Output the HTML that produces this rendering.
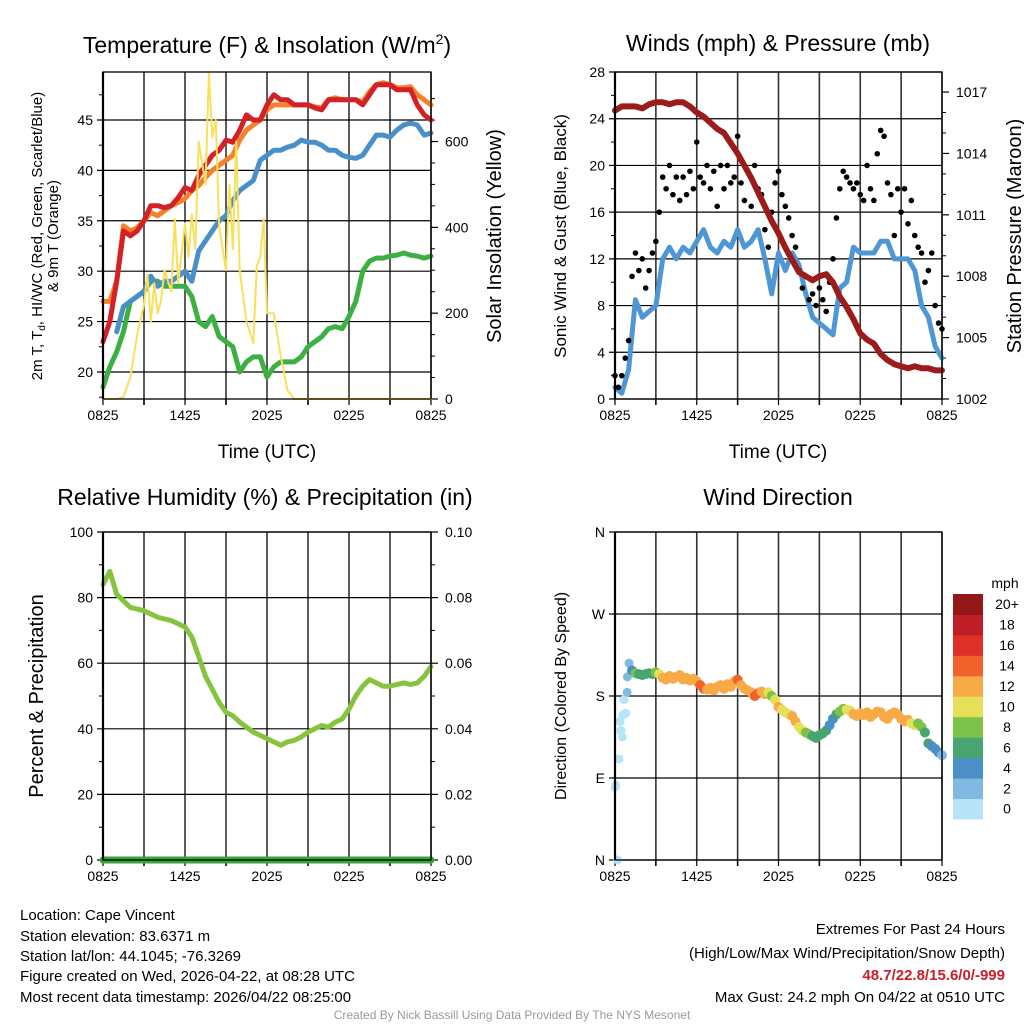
<!DOCTYPE html>
<html><head><meta charset="utf-8">
<style>
html,body{margin:0;padding:0;background:#fff;}
svg{display:block;font-family:"Liberation Sans",Arial,sans-serif;}
</style></head>
<body>
<svg id="s" width="1024" height="1024" viewBox="0 0 1024 1024" xmlns="http://www.w3.org/2000/svg">
<rect width="1024" height="1024" fill="#fff"/>
<text x="267" y="53" font-size="23" text-anchor="middle">Temperature (F) &amp; Insolation (W/m<tspan font-size="14" dy="-9">2</tspan><tspan dy="9">)</tspan></text>
<text x="778" y="51" font-size="23" text-anchor="middle">Winds (mph) &amp; Pressure (mb)</text>
<text x="265" y="505" font-size="23" text-anchor="middle">Relative Humidity (%) &amp; Precipitation (in)</text>
<text x="778" y="505" font-size="23" text-anchor="middle">Wind Direction</text>

<text x="267" y="458" font-size="19" text-anchor="middle">Time (UTC)</text>
<text x="778" y="458" font-size="19" text-anchor="middle">Time (UTC)</text>

<text transform="translate(42,236) rotate(-90)" font-size="15" text-anchor="middle">2m T, T<tspan font-size="10" dy="3">d</tspan><tspan dy="-3">, HI/WC (Red, Green, Scarlet/Blue)</tspan></text>
<text transform="translate(58,236) rotate(-90)" font-size="15" text-anchor="middle">&amp; 9m T (Orange)</text>
<text transform="translate(501,236) rotate(-90)" font-size="20" text-anchor="middle">Solar Insolation (Yellow)</text>
<text transform="translate(566,236) rotate(-90)" font-size="17" text-anchor="middle">Sonic Wind &amp; Gust (Blue, Black)</text>
<text transform="translate(1021,236) rotate(-90)" font-size="20" text-anchor="middle">Station Pressure (Maroon)</text>
<text transform="translate(43,696) rotate(-90)" font-size="20" text-anchor="middle">Percent &amp; Precipitation</text>
<text transform="translate(566,696) rotate(-90)" font-size="16" text-anchor="middle">Direction (Colored By Speed)</text>

<g font-size="15">
<text x="20" y="920">Location: Cape Vincent</text>
<text x="20" y="941">Station elevation: 83.6371 m</text>
<text x="20" y="961">Station lat/lon: 44.1045; -76.3269</text>
<text x="20" y="981">Figure created on Wed, 2026-04-22, at 08:28 UTC</text>
<text x="20" y="1002">Most recent data timestamp: 2026/04/22 08:25:00</text>
</g>
<g font-size="15" text-anchor="end">
<text x="1005" y="934">Extremes For Past 24 Hours</text>
<text x="1005" y="958">(High/Low/Max Wind/Precipitation/Snow Depth)</text>
<text x="1005" y="980" fill="#c8202a" font-weight="bold">48.7/22.8/15.6/0/-999</text>
<text x="1005" y="1002">Max Gust: 24.2 mph On 04/22 at 0510 UTC</text>
</g>
<text x="512" y="1019" font-size="12" fill="#999" text-anchor="middle">Created By Nick Bassill Using Data Provided By The NYS Mesonet</text>
</svg>
<script>
// ---------- data ----------
const xTickLabels = ["0825","1425","2025","0225","0825"];
const halfHourTimes = [0,0.5,1,1.5,2,2.5,3,3.5,4,4.5,5,5.5,6,6.5,7,7.5,8,8.5,9,9.5,10,10.5,11,11.5,12,12.5,13,13.5,14,14.5,15,15.5,16,16.5,17,17.5,18,18.5,19,19.5,20,20.5,21,21.5,22,22.5,23,23.5,24];
const tempRed = [23,25,29,34,33.5,34,35,36.5,36.5,36.3,36.5,37.3,38.3,38,39.5,40.5,41.5,42,43,42.8,44,45.5,45,45,46.5,47.5,47,47,46.5,46.5,46.5,46.2,46,47,47,47,47,47,46.5,47.5,48.5,48.5,48.5,48,48,48,46.5,45.5,45];
const temp9mOrange = [27,27,29,34.5,34,34.3,35,35.8,35.5,36,36.5,36.8,37.2,38,38.5,39.3,40,40.5,41,41.5,43,44,44.5,45,46,46.5,46.5,46.5,46.5,46.5,46.5,46.3,46.2,47,47.2,47,47,47,46.8,47.8,48.5,48.7,48.5,48.2,48.2,48.3,47.5,47,46.5];
const windChillBlue = [24,26.5,27,27.5,28,29.5,28.5,29,29,29.5,30,29,32,33,34,35,35.5,37,38,38.5,39,41,41.5,42,42,42.3,42.5,43,42.8,42.8,42.5,42,42,41.5,41.3,41.2,41.5,42.5,43.5,43.5,43.3,44,44.5,44.7,44.5,43.5,43.7];
const dewpointGreen = [18.5,20.5,22,24,27,27.5,28,29,29,28.5,28.5,28.5,28.5,27.5,25,24.5,25.5,23.5,23,22.5,20,21,21.5,21.5,19.5,20.5,21,21,21,21.5,22.5,23,23.5,24.3,24.5,24.3,25.5,27,30,31,31.3,31.3,31.5,31.6,31.8,31.6,31.5,31.3,31.5];
const solarTimes = [0,1,1.5,2,2.5,3,3.25,3.5,3.75,4,4.25,4.5,5,5.25,5.5,6,6.25,6.5,6.75,7,7.25,7.5,7.75,8,8.25,8.5,8.75,9,9.25,9.5,9.75,10,10.5,11,11.25,11.5,11.75,12,12.5,13,13.5,14,24];
const solarVals = [0,0,5,50,150,220,290,180,270,200,230,300,250,420,270,410,330,430,350,600,550,500,760,610,650,400,350,300,500,350,600,300,180,130,310,330,420,200,200,100,20,0,0];
const windSpeed = [1,0.5,2.5,8.5,7,7.5,8,12,13,12,13,12.5,13.5,14.5,13,12.5,13.5,13,14.5,13,13.5,14.5,12,9,12.5,11,12.5,11.5,9,7,6.5,6,5.5,9.5,10,13,12.5,12.5,12.5,13.5,13.5,12,12,12,11,8,7,4.5,3.5];
const windGust = [2,1,2,3.5,5,10.5,12.5,11,12,9.5,11,12.5,13.5,
 16,19,18,20,17.5,19,17,19,17.5,19.5,18,22,
 19,18.5,20,18,19.5,16.5,20,18,20,18.5,19,22.5,
 18.5,17,19.5,16.5,20,18,17.5,14.5,13,16,18.5,19.5,
 17.5,16.5,15.5,14,13,11,9.5,10.5,8.5,9,8,9.5,
 8.5,7.5,10,12,15.5,18,19.5,19,18.5,18,18.5,17.5,
 17,20,18,17,21,23,22.5,18.5,17.5,14,18,16,
 18,15,17,14,13,12.5,10,11,12.5,8,6.5,6];
const pressure = [1016.1,1016.3,1016.3,1016.3,1016.2,1016.4,1016.5,1016.5,1016.4,1016.5,1016.5,1016.3,1016.0,1015.8,1015.5,1015.2,1015.0,1014.5,1014.0,1013.4,1012.8,1012.1,1011.4,1010.7,1010.1,1009.4,1008.8,1008.2,1008.0,1007.8,1008.0,1008.1,1007.7,1007.0,1006.5,1005.9,1005.2,1004.9,1004.7,1004.2,1003.9,1003.7,1003.6,1003.5,1003.6,1003.5,1003.5,1003.4,1003.4];
const humidity = [84,88,81,79,77,76.5,76,75,74,73.5,73,72,71,68,62,56,52,48,45,44,42,40.5,39,38,37,36,35,36,36.5,37.5,39,40,41,40.5,42,43,46,50,53,55,54,53,53,53.5,54,53.5,54,56,59];
const precipTimes = [0,24];
const precipVals = [0,0];
const dirEarlyTimes = [0,0.05,0.2,0.3,0.37,0.44,0.54,0.57,0.66,0.79,0.89,0.91,1.03];
const dirEarlyVals = [80,82,0,111,152,142,135,159,176,161,184,201,216];
const dirTimes = [1.25,1.5,1.75,2,2.25,2.5,2.75,3,3.25,3.5,3.75,4,4.25,4.5,4.75,5,5.25,5.5,5.75,6,6.25,6.5,6.75,7,7.25,7.5,7.75,8,8.25,8.5,8.75,9,9.25,9.5,9.75,10,10.25,10.5,10.75,11,11.25,11.5,11.75,12,12.25,12.5,12.75,13,13.25,13.5,13.75,14,14.25,14.5,14.75,15,15.25,15.5,15.75,16,16.25,16.5,16.75,17,17.25,17.5,17.75,18,18.25,18.5,18.75,19,19.25,19.5,19.75,20,20.25,20.5,20.75,21,21.25,21.5,21.75,22,22.25,22.5,22.75,23,23.25,23.5,23.75,24];
const dirVals = [208,205,204,203,204,205,204,206,
 204,200,198,202,199,201,203,198,200,197,199,196,
 192,188,187,189,186,190,192,188,193,190,196,198,
 192,188,186,184,180,183,185,182,184,180,176,168,
 165,162,160,158,152,146,142,140,138,136,134,137,
 139,142,148,155,160,163,166,165,164,160,158,161,
 159,162,157,160,163,162,157,155,160,162,160,155,
 152,154,150,148,150,146,140,128,125,122,118,115];
const speedBinLabels = ["0","2","4","6","8","10","12","14","16","18","20+"];
const speedBinColors = ["#b8e4f8","#80b9e2","#4a8fc6","#48a570","#7dc24a","#e5e057","#f7aa45","#f0612b","#de3029","#be1e25","#911719"];

// ---------- helpers ----------
const NS = "http://www.w3.org/2000/svg";
const svg = document.getElementById('s');
function mk(tag, attrs, name, parent){
  const el = document.createElementNS(NS, tag);
  for (const k in attrs) el.setAttribute(k, attrs[k]);
  
  
  (parent||svg).appendChild(el);
  return el;
}
function txt(x,y,s,size,anchor,name,parent){
  const el = mk('text',{x:x,y:y,'font-size':size,'text-anchor':anchor||'middle'},name,parent);
  el.textContent = s;
  return el;
}
function lin(a,b,c,d){ return v => c + (v-a)/(b-a)*(d-c); }
function interp(ts, vs, t){
  if (t<=ts[0]) return vs[0];
  for (let i=1;i<ts.length;i++) if (t<=ts[i]) { const f=(t-ts[i-1])/(ts[i]-ts[i-1]); return vs[i-1]+f*(vs[i]-vs[i-1]); }
  return vs[vs.length-1];
}
function polyline(ts, vs, xf, yf, color, w, name, g){
  const pts = ts.map((t,i)=>xf(t).toFixed(1)+','+yf(vs[i]).toFixed(1)).join(' ');
  return mk('polyline',{points:pts,fill:'none',stroke:color,'stroke-width':w,'stroke-linejoin':'round','stroke-linecap':'round'},name,g);
}

function panel(p){
  const g = mk('g',{},p.name);
  const xf = lin(0,24,p.x0,p.x1);
  for (let h=0; h<=24; h+=3){
    const x = xf(h);
    mk('line',{x1:x,y1:p.y0,x2:x,y2:p.y1+(h%6===0?0:6),stroke:'#333','stroke-width':1.6},'x-grid-line',g);
    mk('line',{x1:x,y1:p.y1,x2:x,y2:p.y1+6,stroke:'#000','stroke-width':1.2},'x-tick',g);
  }
  xTickLabels.forEach((s,i)=>{ txt(xf(i*6), p.y1+21, s, 14, 'middle', 'x-tick-label', g); });
  const ylf = lin(p.lmin,p.lmax,p.y1,p.y0);
  p.lticks.forEach((v,i)=>{
    const y = ylf(v);
    mk('line',{x1:p.x0-6,y1:y,x2:p.x1,y2:y,stroke:'#000','stroke-width':1.2},'y-grid-line',g);
    txt(p.x0-10, y+5, p.llabels[i], 14, 'end', 'left-tick-label', g);
  });
  (p.lminor||[]).forEach(v=>{ const y=ylf(v); mk('line',{x1:p.x0-4,y1:y,x2:p.x0,y2:y,stroke:'#000','stroke-width':1},'left-minor-tick',g); });
  if (p.rticks){
    const yrf = lin(p.rmin,p.rmax,p.y1,p.y0);
    p.rticks.forEach((v,i)=>{ const y=yrf(v);
      mk('line',{x1:p.x1,y1:y,x2:p.x1+7,y2:y,stroke:'#000','stroke-width':1.2},'right-tick',g);
      txt(p.x1+14, y+5, p.rlabels[i], 14, 'start', 'right-tick-label', g); });
    (p.rminor||[]).forEach(v=>{ const y=yrf(v); mk('line',{x1:p.x1,y1:y,x2:p.x1+4,y2:y,stroke:'#000','stroke-width':1},'right-minor-tick',g); });
  }
  return {g, xf, ylf, yrf: p.rticks ? lin(p.rmin,p.rmax,p.y1,p.y0) : null};
}
function frame(p,g){
  mk('rect',{x:p.x0,y:p.y0,width:p.x1-p.x0,height:p.y1-p.y0,fill:'none',stroke:'#000','stroke-width':1.3},'plot-frame',g);
  mk('line',{x1:p.x0,y1:p.y0,x2:p.x0,y2:p.y1,stroke:'#000','stroke-width':2.2},'left-axis-line',g);
}

// ---------- panel 1: temperature ----------
const P1 = {name:'temperature-panel',x0:103,x1:431,y0:72,y1:399,lmin:17.32,lmax:49.76,
  lticks:[20,25,30,35,40,45], llabels:["20","25","30","35","40","45"],
  lminor:[17.5,22.5,27.5,32.5,37.5,42.5,47.5],
  rmin:0,rmax:762, rticks:[0,200,400,600], rlabels:["0","200","400","600"],
  rminor:[50,100,150,250,300,350,450,500,550,650,700]};
const a1 = panel(P1);
const wct = halfHourTimes.slice(2);
polyline(halfHourTimes, dewpointGreen, a1.xf, a1.ylf, '#3db043', 5, 'dewpoint-line', a1.g);
polyline(wct, windChillBlue, a1.xf, a1.ylf, '#4a90c8', 5, 'wind-chill-line', a1.g);
polyline(halfHourTimes, temp9mOrange, a1.xf, a1.ylf, '#f5822a', 5, 'temp-9m-line', a1.g);
polyline(halfHourTimes, tempRed, a1.xf, a1.ylf, '#d42027', 5, 'temp-2m-line', a1.g);
polyline(solarTimes, solarVals, a1.xf, a1.yrf, '#f9e05a', 2, 'solar-line', a1.g);
frame(P1, a1.g);

// ---------- panel 2: winds ----------
const P2 = {name:'winds-panel',x0:615,x1:942,y0:72,y1:399,lmin:0,lmax:28,
  lticks:[0,4,8,12,16,20,24,28], llabels:["0","4","8","12","16","20","24","28"],
  lminor:[2,6,10,14,18,22,26],
  rmin:1002,rmax:1017.98, rticks:[1002,1005,1008,1011,1014,1017], rlabels:["1002","1005","1008","1011","1014","1017"],
  rminor:[1003,1004,1006,1007,1009,1010,1012,1013,1015,1016]};
const a2 = panel(P2);
polyline(halfHourTimes, windSpeed, a2.xf, a2.ylf, '#4f97d4', 5, 'wind-speed-line', a2.g);
windGust.forEach((v,i)=>{
  const c = mk('circle',{cx:a2.xf(i*0.25),cy:a2.ylf(v),r:2.8,fill:'#000'},'gust-point',a2.g);
});
polyline(halfHourTimes, pressure, a2.xf, a2.yrf, '#9c1b1b', 6, 'pressure-line', a2.g);
frame(P2, a2.g);

// ---------- panel 3: humidity ----------
const P3 = {name:'humidity-panel',x0:103,x1:431,y0:532,y1:860,lmin:0,lmax:100,
  lticks:[0,20,40,60,80,100], llabels:["0","20","40","60","80","100"],
  lminor:[10,30,50,70,90],
  rmin:0,rmax:0.1, rticks:[0,0.02,0.04,0.06,0.08,0.1], rlabels:["0.00","0.02","0.04","0.06","0.08","0.10"],
  rminor:[0.01,0.03,0.05,0.07,0.09]};
const a3 = panel(P3);
polyline(halfHourTimes, humidity, a3.xf, a3.ylf, '#86c440', 5, 'humidity-line', a3.g);
polyline(precipTimes, precipVals, a3.xf, a3.yrf, '#3aa23e', 7, 'precip-line', a3.g);
frame(P3, a3.g);

// ---------- panel 4: wind direction ----------
const P4 = {name:'wind-direction-panel',x0:615,x1:942,y0:532,y1:860,lmin:0,lmax:360,
  lticks:[0,90,180,270,360], llabels:["N","E","S","W","N"]};
const a4 = panel(P4);
function speedColor(s){ const b=Math.max(0,Math.min(10,Math.floor(s/2))); return speedBinColors[b]; }
dirEarlyTimes.forEach((t,i)=>{
  const c = mk('circle',{cx:a4.xf(t),cy:a4.ylf(dirEarlyVals[i]),r:4.5,fill:speedColor(interp(halfHourTimes,windSpeed,t))},'direction-point',a4.g);
});
dirTimes.forEach((t,i)=>{
  const c = mk('circle',{cx:a4.xf(t),cy:a4.ylf(dirVals[i]),r:5,fill:speedColor(interp(halfHourTimes,windSpeed,t))},'direction-point',a4.g);
});
frame(P4, a4.g);
const lg = mk('g',{},'speed-legend');
txt(1005, 588, 'mph', 14, 'middle', 'legend-title', lg);
const boxH = 20.45;
speedBinColors.forEach((c,i)=>{
  const y = 594 + (10-i)*boxH;
  mk('rect',{x:953,y:y,width:30,height:boxH+0.5,fill:c},'legend-swatch',lg);
  txt(1007, y+boxH/2+5, speedBinLabels[i], 14, 'middle', 'legend-label', lg);
});
</script>
</body></html>
